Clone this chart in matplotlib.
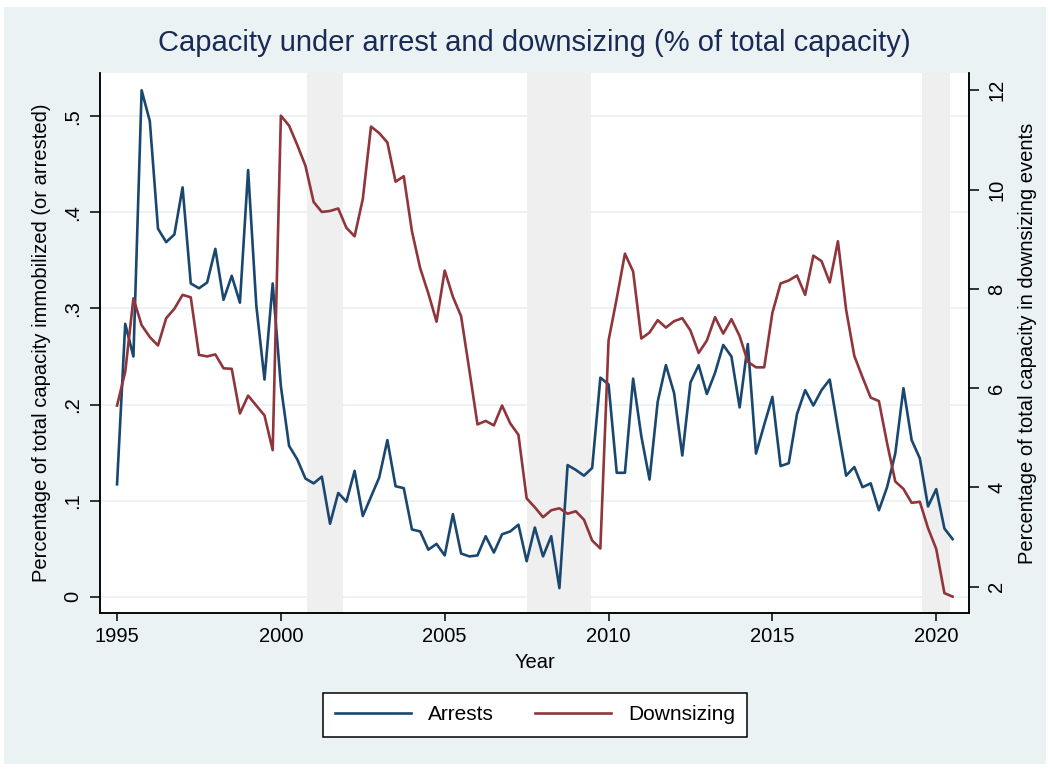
import numpy as np
import pandas as pd
import matplotlib
matplotlib.use("Agg")
import matplotlib.pyplot as plt
from matplotlib.patches import Rectangle
from matplotlib.lines import Line2D

plt.rcParams["font.family"] = ["Liberation Sans", "DejaVu Sans"]

# Quarterly observations, 1995Q1 .. 2020Q3
quarters = pd.period_range("1995Q1", "2020Q3", freq="Q")
year_pos = quarters.year + (quarters.quarter - 1) / 4.0

arrests = [
    0.117, 0.284, 0.250, 0.527,
    0.495, 0.383, 0.369, 0.377,
    0.426, 0.326, 0.321, 0.327,
    0.362, 0.309, 0.334, 0.306,
    0.444, 0.303, 0.226, 0.326,
    0.219, 0.157, 0.143, 0.123,
    0.118, 0.125, 0.076, 0.108,
    0.099, 0.131, 0.084, 0.104,
    0.124, 0.163, 0.115, 0.113,
    0.070, 0.068, 0.049, 0.055,
    0.043, 0.086, 0.045, 0.042,
    0.043, 0.063, 0.046, 0.065,
    0.068, 0.075, 0.037, 0.072,
    0.042, 0.063, 0.009, 0.137,
    0.132, 0.126, 0.134, 0.228,
    0.221, 0.129, 0.129, 0.227,
    0.167, 0.122, 0.203, 0.241,
    0.212, 0.147, 0.223, 0.241,
    0.211, 0.233, 0.262, 0.250,
    0.197, 0.263, 0.149, 0.179,
    0.208, 0.136, 0.139, 0.190,
    0.215, 0.199, 0.215, 0.226,
    0.175, 0.126, 0.135, 0.114,
    0.118, 0.090, 0.114, 0.149,
    0.217, 0.163, 0.144, 0.094,
    0.112, 0.071, 0.060,
]

downsizing = [
    5.65, 6.33, 7.81, 7.27,
    7.03, 6.86, 7.41, 7.60,
    7.88, 7.83, 6.67, 6.64,
    6.68, 6.40, 6.39, 5.49,
    5.85, 5.65, 5.45, 4.75,
    11.49, 11.29, 10.90, 10.48,
    9.75, 9.55, 9.57, 9.62,
    9.23, 9.06, 9.81, 11.27,
    11.14, 10.95, 10.16, 10.27,
    9.16, 8.42, 7.91, 7.34,
    8.37, 7.84, 7.45, 6.37,
    5.27, 5.34, 5.25, 5.65,
    5.29, 5.06, 3.78, 3.60,
    3.40, 3.54, 3.58, 3.47,
    3.52, 3.35, 2.93, 2.77,
    6.96, 7.81, 8.71, 8.35,
    7.00, 7.12, 7.37, 7.22,
    7.35, 7.41, 7.16, 6.71,
    6.96, 7.43, 7.10, 7.39,
    7.05, 6.53, 6.42, 6.42,
    7.52, 8.11, 8.17, 8.27,
    7.88, 8.67, 8.56, 8.13,
    8.96, 7.58, 6.65, 6.22,
    5.81, 5.74, 4.89, 4.12,
    3.97, 3.69, 3.71, 3.18,
    2.76, 1.87, 1.80,
]

# Recession periods (shaded)
recession_start = [2000.80, 2007.50, 2019.58]
recession_end = [2001.91, 2009.45, 2020.42]

x_ticks = [1995, 2000, 2005, 2010, 2015, 2020]
left_ticks = [0.0, 0.1, 0.2, 0.3, 0.4, 0.5]
left_labels = ["0", ".1", ".2", ".3", ".4", ".5"]
right_ticks = [2, 4, 6, 8, 10, 12]

NAVY = "#1a476f"
MAROON = "#90353b"
PANEL = "#eaf2f3"
BAND = "#efefef"

fig = plt.figure(figsize=(10.5, 7.7), dpi=100, facecolor="white")
fig.patches.append(Rectangle((4 / 1050, 6 / 770), 1042 / 1050, 757 / 770,
                             transform=fig.transFigure, facecolor=PANEL,
                             edgecolor="none", zorder=-10))

ax = fig.add_axes([100 / 1050, 1 - 613 / 770, 869 / 1050, 540 / 770])
ax.set_facecolor("white")
ax2 = ax.twinx()

for s, e in zip(recession_start, recession_end):
    ax.axvspan(s, e, color=BAND, lw=0, zorder=1)

ax.set_axisbelow(True)
ax.grid(axis="y", color=PANEL, lw=1.3, zorder=0.5)
ax.grid(axis="x", visible=False)

ax.plot(year_pos, arrests, color=NAVY, lw=1.9, zorder=3)
ax2.plot(year_pos, downsizing, color=MAROON, lw=1.9, zorder=3)

ax.set_xlim(1994.48, 2021.0)
ax.set_ylim(-0.0169, 0.545)
ax2.set_ylim(1.47, 12.35)

ax.set_xticks(x_ticks)
ax.set_xticklabels([str(t) for t in x_ticks])
ax.set_yticks(left_ticks)
ax.set_yticklabels(left_labels)
ax2.set_yticks(right_ticks)
ax2.set_yticklabels([str(t) for t in right_ticks])

for a in (ax, ax2):
    a.spines["top"].set_visible(False)
    for side in ("left", "right", "bottom"):
        a.spines[side].set_linewidth(1.1)
        a.spines[side].set_color("black")

ax.tick_params(axis="x", length=6, width=1.1, labelsize=14.5, pad=4)
ax.tick_params(axis="y", length=7, width=1.1, labelsize=14.5, pad=6,
               labelrotation=90)
ax2.tick_params(axis="y", length=7, width=1.1, labelsize=14.5, pad=6,
                labelrotation=90)
for lab in ax.get_yticklabels():
    lab.set_va("center")
for lab in ax2.get_yticklabels():
    lab.set_va("center")

ax.set_xlabel("Year", fontsize=14.5, labelpad=5)
ax.set_ylabel("Percentage of total capacity immobilized (or arrested)",
              fontsize=14.5, labelpad=8.5)
ax2.set_ylabel("Percentage of total capacity in downsizing events",
               fontsize=14.5, labelpad=8.5, rotation=90)

fig.text(0.509, 1 - 43 / 770,
         "Capacity under arrest and downsizing (% of total capacity)",
         ha="center", va="center", fontsize=21, color="#1a2a55")

handles = [Line2D([], [], color=NAVY, lw=1.9),
           Line2D([], [], color=MAROON, lw=1.9)]
leg = fig.legend(handles, ["Arrests", "Downsizing"], loc="center",
                 bbox_to_anchor=(535 / 1050, 1 - 715 / 770), ncol=2,
                 fontsize=15, frameon=True, fancybox=False,
                 handlelength=3.65, handletextpad=0.8, columnspacing=2.0,
                 borderpad=0.6)
leg.get_frame().set_edgecolor("black")
leg.get_frame().set_linewidth(1.1)
leg.get_frame().set_facecolor("white")
leg.get_frame().set_alpha(1.0)

fig.savefig("out.png", dpi=100, facecolor="white")
